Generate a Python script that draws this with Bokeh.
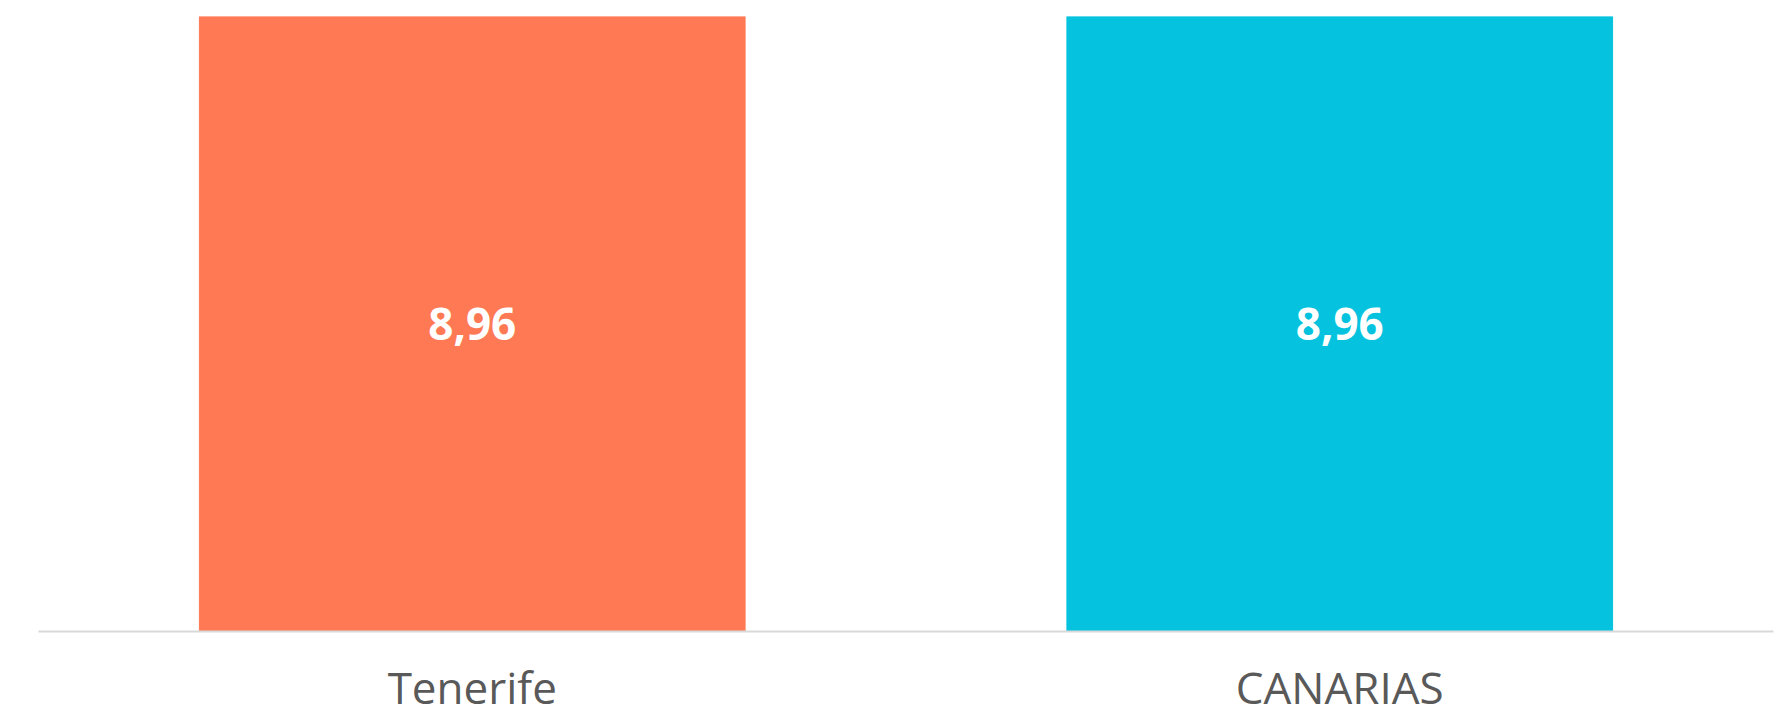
from bokeh.plotting import figure
from bokeh.models import ColumnDataSource, Range1d, FactorRange
from bokeh.core.properties import value
from bokeh.embed import file_html
from bokeh.resources import INLINE

categories = ["Tenerife", "CANARIAS"]
values = [8.96, 8.96]
labels = ["8,96", "8,96"]
colors = ["#FF7954", "#05C2DE"]

src = ColumnDataSource(dict(cat=categories, val=values, half=[v / 2 for v in values],
                            lab=labels, col=colors))

p = figure(frame_width=1735, frame_height=615,
           x_range=FactorRange(*categories, range_padding=0),
           y_range=Range1d(0, max(values)), output_backend="svg", toolbar_location=None,
           min_border_left=38, min_border_right=19, min_border_top=16, min_border_bottom=60)

p.vbar(x="cat", top="val", width=0.629, color="col", source=src)
p.text(x="cat", y="half", text="lab", source=src, text_align="center", text_baseline="middle",
       text_color="white", text_font=value("Open Sans"), text_font_style="bold",
       text_font_size="44px")

p.yaxis.visible = False
p.xgrid.visible = False
p.ygrid.visible = False
p.outline_line_color = None
p.xaxis.axis_line_color = "#D9D9D9"
p.xaxis.axis_line_width = 2
p.xaxis.major_tick_line_color = None
p.xaxis.minor_tick_line_color = None
p.xaxis.major_label_text_font = "Open Sans"
p.xaxis.major_label_text_font_size = "44px"
p.xaxis.major_label_text_color = "#595959"
p.xaxis.major_label_standoff = 19

open("out.html", "w").write(file_html(p, INLINE))
